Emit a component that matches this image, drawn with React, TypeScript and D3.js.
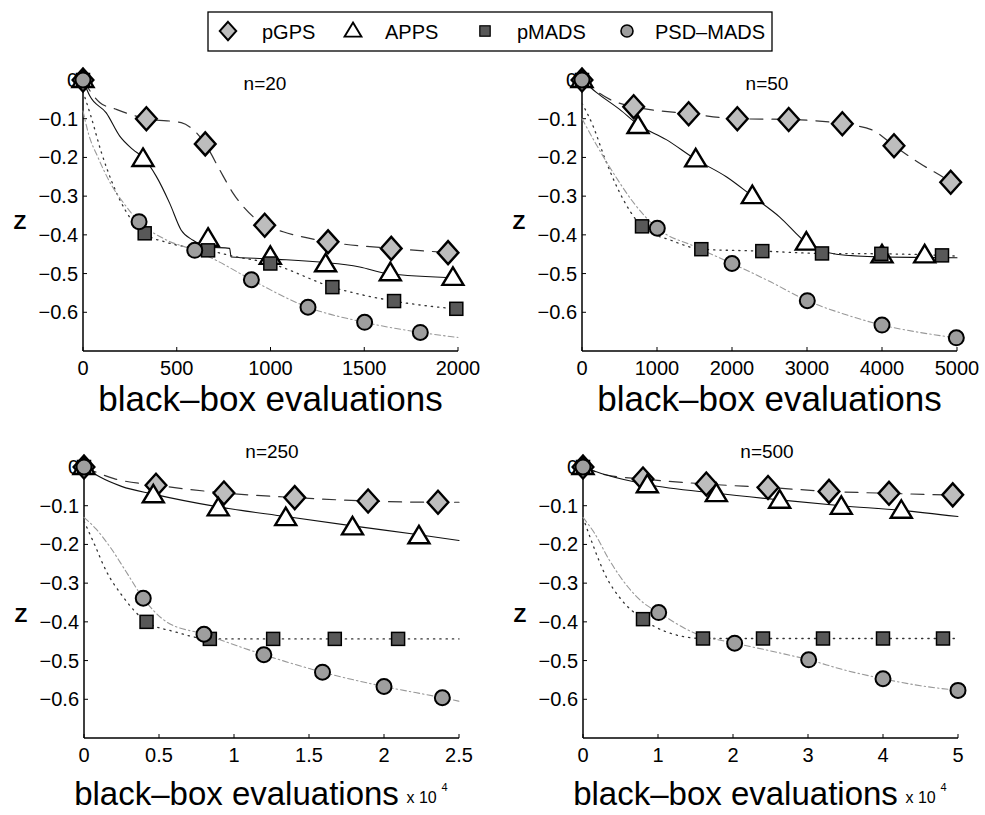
import * as d3 from "d3";

type Pt = [number, number];

const seriesNames = ["pGPS", "APPS", "pMADS", "PSD-MADS"];
const panelTitles = ["n=20", "n=50", "n=250", "n=500"];
const xMaxes = [2000, 5000, 2.5, 5];
const xTicks20 = [0, 500, 1000, 1500, 2000];
const xTicks50 = [0, 1000, 2000, 3000, 4000, 5000];
const xTicks250 = [0, 0.5, 1, 1.5, 2, 2.5];
const xTicks500 = [0, 1, 2, 3, 4, 5];
const yTicks = [0, -0.1, -0.2, -0.3, -0.4, -0.5, -0.6];

// n=20
const n20_pGPS_line: Pt[] = [[0, 0], [89, -0.058], [178, -0.076], [338, -0.1], [524, -0.11], [587, -0.128], [652, -0.165], [729, -0.232], [800, -0.292], [907, -0.353], [969, -0.375], [1067, -0.392], [1307, -0.418], [1644, -0.435], [1947, -0.446], [2000, -0.448]];
const n20_pGPS_mark: Pt[] = [[0, 0], [338, -0.1], [652, -0.165], [969, -0.375], [1307, -0.418], [1644, -0.435], [1947, -0.446]];
const n20_APPS_line: Pt[] = [[0, 0], [36, -0.041], [124, -0.085], [196, -0.145], [267, -0.18], [320, -0.2], [391, -0.249], [462, -0.318], [524, -0.388], [587, -0.414], [667, -0.431], [782, -0.435], [790, -0.457], [999, -0.462], [1476, -0.483], [1618, -0.5], [2000, -0.511]];
const n20_APPS_mark: Pt[] = [[0, 0], [320, -0.204], [667, -0.41], [999, -0.457], [1294, -0.476], [1639, -0.499], [1973, -0.511]];
const n20_pMADS_line: Pt[] = [[0, -0.03], [40, -0.09], [100, -0.19], [160, -0.27], [230, -0.34], [329, -0.396], [450, -0.42], [667, -0.44], [800, -0.455], [999, -0.474], [1330, -0.535], [1659, -0.571], [2000, -0.592]];
const n20_pMADS_mark: Pt[] = [[0, 0], [329, -0.396], [667, -0.44], [999, -0.474], [1330, -0.535], [1659, -0.571], [1991, -0.591]];
const n20_PSD_line: Pt[] = [[0, -0.08], [30, -0.14], [80, -0.2], [150, -0.27], [220, -0.32], [299, -0.366], [444, -0.413], [596, -0.44], [711, -0.466], [898, -0.516], [1200, -0.587], [1502, -0.626], [1799, -0.652], [2000, -0.665]];
const n20_PSD_mark: Pt[] = [[0, 0], [299, -0.366], [596, -0.44], [898, -0.516], [1200, -0.587], [1502, -0.626], [1799, -0.652]];

// n=50
const n50_pGPS_line: Pt[] = [[0, 0], [413, -0.054], [689, -0.069], [1422, -0.087], [2071, -0.1], [2756, -0.102], [3471, -0.113], [3880, -0.13], [4160, -0.17], [4502, -0.215], [4916, -0.264], [5000, -0.276]];
const n50_pGPS_mark: Pt[] = [[0, 0], [689, -0.069], [1422, -0.087], [2071, -0.1], [2756, -0.102], [3471, -0.113], [4160, -0.17], [4916, -0.264]];
const n50_APPS_line: Pt[] = [[0, 0], [191, -0.032], [502, -0.076], [747, -0.115], [1124, -0.154], [1516, -0.205], [1924, -0.25], [2271, -0.3], [2636, -0.354], [2991, -0.42], [3391, -0.45], [3969, -0.457], [5000, -0.459]];
const n50_APPS_mark: Pt[] = [[0, 0], [747, -0.119], [1516, -0.205], [2271, -0.3], [2991, -0.42], [4000, -0.453], [4569, -0.453]];
const n50_pMADS_line: Pt[] = [[0, -0.06], [150, -0.12], [300, -0.2], [500, -0.29], [800, -0.378], [1200, -0.415], [1591, -0.437], [2404, -0.442], [3200, -0.448], [4000, -0.449], [4800, -0.453], [5000, -0.455]];
const n50_pMADS_mark: Pt[] = [[0, 0], [800, -0.378], [1591, -0.437], [2404, -0.442], [3200, -0.448], [3991, -0.449], [4800, -0.453]];
const n50_PSD_line: Pt[] = [[0, -0.1], [200, -0.17], [450, -0.25], [700, -0.32], [1004, -0.383], [1500, -0.43], [2000, -0.474], [2500, -0.52], [3004, -0.57], [3500, -0.605], [4000, -0.633], [4500, -0.652], [4991, -0.666]];
const n50_PSD_mark: Pt[] = [[0, 0], [1004, -0.383], [2000, -0.474], [3004, -0.57], [4000, -0.633], [4991, -0.666]];

// n=250 (x in 10^4)
const n250_pGPS_line: Pt[] = [[0, 0], [0.2, -0.03], [0.48, -0.047], [0.933, -0.067], [1.405, -0.079], [1.894, -0.088], [2.36, -0.091], [2.5, -0.091]];
const n250_pGPS_mark: Pt[] = [[0, 0], [0.48, -0.047], [0.933, -0.067], [1.405, -0.079], [1.894, -0.088], [2.36, -0.091]];
const n250_APPS_line: Pt[] = [[0, 0], [0.107, -0.026], [0.25, -0.05], [0.462, -0.07], [0.895, -0.103], [1.345, -0.128], [1.79, -0.152], [2.233, -0.175], [2.5, -0.19]];
const n250_APPS_mark: Pt[] = [[0, 0], [0.462, -0.073], [0.895, -0.107], [1.345, -0.132], [1.79, -0.156], [2.233, -0.179]];
const n250_pMADS_line: Pt[] = [[0, -0.14], [0.07, -0.2], [0.15, -0.27], [0.25, -0.33], [0.417, -0.4], [0.6, -0.425], [0.839, -0.444], [1.261, -0.444], [1.672, -0.444], [2.094, -0.444], [2.5, -0.444]];
const n250_pMADS_mark: Pt[] = [[0, 0], [0.417, -0.4], [0.839, -0.444], [1.261, -0.444], [1.672, -0.444], [2.094, -0.444]];
const n250_PSD_line: Pt[] = [[0, -0.13], [0.08, -0.16], [0.18, -0.21], [0.28, -0.27], [0.395, -0.339], [0.55, -0.4], [0.8, -0.432], [1.199, -0.485], [1.59, -0.53], [2.0, -0.567], [2.389, -0.596], [2.5, -0.605]];
const n250_PSD_mark: Pt[] = [[0, 0], [0.395, -0.339], [0.8, -0.432], [1.199, -0.485], [1.59, -0.53], [2.0, -0.567], [2.389, -0.596]];

// n=500 (x in 10^4)
const n500_pGPS_line: Pt[] = [[0, 0], [0.3, -0.02], [0.8, -0.031], [1.644, -0.044], [2.467, -0.053], [3.28, -0.063], [4.08, -0.068], [4.93, -0.072], [5, -0.072]];
const n500_pGPS_mark: Pt[] = [[0, 0], [0.8, -0.031], [1.644, -0.044], [2.467, -0.053], [3.28, -0.063], [4.08, -0.068], [4.93, -0.072]];
const n500_APPS_line: Pt[] = [[0, 0], [0.3, -0.02], [0.858, -0.045], [1.778, -0.068], [2.622, -0.085], [3.444, -0.1], [4.244, -0.112], [5, -0.128]];
const n500_APPS_mark: Pt[] = [[0, 0], [0.858, -0.047], [1.778, -0.07], [2.622, -0.087], [3.444, -0.103], [4.244, -0.113]];
const n500_pMADS_line: Pt[] = [[0, -0.13], [0.13, -0.2], [0.3, -0.28], [0.5, -0.34], [0.8, -0.393], [1.1, -0.425], [1.6, -0.443], [2.4, -0.443], [3.2, -0.443], [4.0, -0.443], [4.8, -0.443], [5.0, -0.443]];
const n500_pMADS_mark: Pt[] = [[0, 0], [0.8, -0.393], [1.6, -0.443], [2.4, -0.443], [3.2, -0.443], [4.0, -0.443], [4.8, -0.443]];
const n500_PSD_line: Pt[] = [[0, -0.13], [0.15, -0.17], [0.35, -0.24], [0.6, -0.31], [0.8, -0.35], [1.009, -0.376], [1.5, -0.43], [2.022, -0.455], [2.5, -0.475], [3.009, -0.498], [3.5, -0.525], [4.0, -0.547], [4.5, -0.565], [5.0, -0.577]];
const n500_PSD_mark: Pt[] = [[0, 0], [1.009, -0.376], [2.022, -0.455], [3.009, -0.498], [4.0, -0.547], [5.0, -0.577]];

const panelLines = [
  [n20_pGPS_line, n20_APPS_line, n20_pMADS_line, n20_PSD_line],
  [n50_pGPS_line, n50_APPS_line, n50_pMADS_line, n50_PSD_line],
  [n250_pGPS_line, n250_APPS_line, n250_pMADS_line, n250_PSD_line],
  [n500_pGPS_line, n500_APPS_line, n500_pMADS_line, n500_PSD_line],
];
const panelMarks = [
  [n20_pGPS_mark, n20_APPS_mark, n20_pMADS_mark, n20_PSD_mark],
  [n50_pGPS_mark, n50_APPS_mark, n50_pMADS_mark, n50_PSD_mark],
  [n250_pGPS_mark, n250_APPS_mark, n250_pMADS_mark, n250_PSD_mark],
  [n500_pGPS_mark, n500_APPS_mark, n500_pMADS_mark, n500_PSD_mark],
];
const panelXTicks = [xTicks20, xTicks50, xTicks250, xTicks500];

// layout of the 4 axes boxes (pixel positions)
const boxes = [
  { left: 83, right: 458, top: 80, bottom: 351, titleX: 265, titleY: 90, zY: 229, xlabY: 411, xlabSize: 35, exp: false },
  { left: 582, right: 957, top: 80, bottom: 351, titleX: 767, titleY: 90, zY: 229, xlabY: 411, xlabSize: 35, exp: false },
  { left: 84, right: 459, top: 467, bottom: 738, titleX: 272, titleY: 458, zY: 622, xlabY: 805, xlabSize: 33, exp: true },
  { left: 583, right: 958, top: 467, bottom: 738, titleX: 767, titleY: 458, zY: 622, xlabY: 805, xlabSize: 33, exp: true },
];

const lineStyles = [
  { stroke: "#333", width: 1.2, dash: "13,9" },
  { stroke: "#111", width: 1.1, dash: "" },
  { stroke: "#333", width: 1.3, dash: "1.3,5" },
  { stroke: "#999", width: 1.1, dash: "6,3,1.5,3" },
];

const FONT = "'Liberation Sans', Arial, Helvetica, sans-serif";

function Marker({ kind, x, y, s = 1 }: { kind: number; x: number; y: number; s?: number }) {
  if (kind === 0) {
    const h = 11.5 * s;
    return (
      <path
        d={`M${x},${y - h}L${x + h * 0.9},${y}L${x},${y + h}L${x - h * 0.9},${y}Z`}
        fill="#bdbdbd"
        stroke="#000"
        strokeWidth={2.4 * s}
        strokeLinejoin="miter"
      />
    );
  }
  if (kind === 1) {
    return (
      <path
        d={`M${x},${y - 10.5 * s}L${x + 10.5 * s},${y + 7 * s}L${x - 10.5 * s},${y + 7 * s}Z`}
        fill="#fff"
        stroke="#000"
        strokeWidth={2.4 * s}
        strokeLinejoin="miter"
      />
    );
  }
  if (kind === 2) {
    const h = 6.5 * s;
    return <rect x={x - h} y={y - h} width={2 * h} height={2 * h} fill="#585858" stroke="#000" strokeWidth={1.5 * s} />;
  }
  return <circle cx={x} cy={y} r={7.5 * s} fill="#9e9e9e" stroke="#000" strokeWidth={2 * s} />;
}

function fmtY(v: number) {
  if (v === 0) return "0";
  return "\u2212" + Math.abs(v).toFixed(1);
}

function Panel({ idx }: { idx: number }) {
  const b = boxes[idx];
  const x = d3.scaleLinear().domain([0, xMaxes[idx]]).range([b.left, b.right]);
  const y = d3.scaleLinear().domain([-0.7, 0]).range([b.bottom, b.top]);
  const line = d3
    .line<Pt>()
    .x((d) => x(d[0]))
    .y((d) => y(d[1]))
    .curve(d3.curveMonotoneX);
  const cx = (b.left + b.right) / 2;
  return (
    <g>
      {/* axes */}
      <line x1={b.left} x2={b.left} y1={b.top} y2={b.bottom} stroke="#000" strokeWidth={1.5} />
      <line x1={b.left} x2={b.right} y1={b.bottom} y2={b.bottom} stroke="#000" strokeWidth={1.5} />
      {yTicks.map((t) => (
        <g key={"y" + t}>
          <line x1={b.left} x2={b.left + 4} y1={y(t)} y2={y(t)} stroke="#000" strokeWidth={1} />
          <text x={b.left - 5} y={y(t) + 7} textAnchor="end" fontSize={20} fontFamily={FONT}>
            {fmtY(t)}
          </text>
        </g>
      ))}
      {panelXTicks[idx].map((t) => (
        <g key={"x" + t}>
          <line x1={x(t)} x2={x(t)} y1={b.bottom} y2={b.bottom - 4} stroke="#000" strokeWidth={1} />
          <text x={x(t)} y={b.bottom + 24} textAnchor="middle" fontSize={20} fontFamily={FONT}>
            {t}
          </text>
        </g>
      ))}
      <text x={b.titleX} y={b.titleY} textAnchor="middle" fontSize={19} fontFamily={FONT}>
        {panelTitles[idx]}
      </text>
      <text x={b.left - 63} y={b.zY} textAnchor="middle" fontSize={21} fontWeight="bold" fontFamily={FONT}>
        Z
      </text>
      {b.exp ? (
        <g>
          <text x={cx - 35} y={b.xlabY} textAnchor="middle" fontSize={b.xlabSize} fontFamily={FONT}>
            black–box evaluations
          </text>
          <text x={cx + 135} y={b.xlabY - 2} fontSize={16} fontFamily={FONT}>
            x 10
          </text>
          <text x={cx + 170} y={b.xlabY - 14} fontSize={11} fontFamily={FONT}>
            4
          </text>
        </g>
      ) : (
        <text x={cx} y={b.xlabY} textAnchor="middle" fontSize={b.xlabSize} fontFamily={FONT}>
          black–box evaluations
        </text>
      )}
      {/* lines */}
      {panelLines[idx].map((pts, s) => (
        <path
          key={"l" + s}
          d={line(pts) || ""}
          fill="none"
          stroke={lineStyles[s].stroke}
          strokeWidth={lineStyles[s].width}
          strokeDasharray={lineStyles[s].dash || undefined}
          strokeLinecap="round"
        />
      ))}
      {/* markers */}
      {panelMarks[idx].map((pts, s) => (
        <g key={"m" + s}>
          {pts.map((p, i) => (
            <Marker key={i} kind={s} x={x(p[0])} y={y(p[1])} />
          ))}
        </g>
      ))}
    </g>
  );
}

const legendMarkerX = [228, 353, 485, 627];
const legendTextX = [262, 385, 517, 655];

export default function App() {
  return (
    <svg
      width={985}
      height={815}
      style={{ position: "absolute", left: 0, top: 0, background: "#fff" }}
    >
      <rect x={0} y={0} width={985} height={815} fill="#fff" />
      <rect x={208} y={12} width={564} height={39} fill="#fff" stroke="#000" strokeWidth={1.3} />
      {seriesNames.map((n, i) => (
        <g key={n}>
          <Marker kind={i} x={legendMarkerX[i]} y={31} s={0.8} />
          <text x={legendTextX[i]} y={39} fontSize={20} fontFamily={FONT}>
            {n === "PSD-MADS" ? "PSD–MADS" : n}
          </text>
        </g>
      ))}
      {[0, 1, 2, 3].map((i) => (
        <Panel key={i} idx={i} />
      ))}
    </svg>
  );
}
